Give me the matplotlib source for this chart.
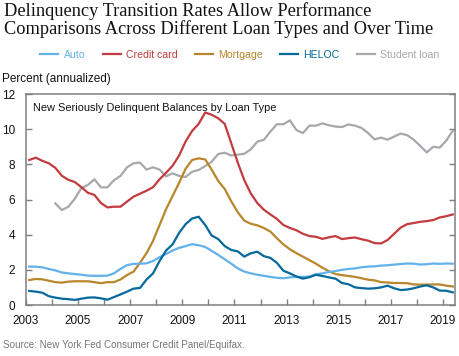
import matplotlib
matplotlib.use("Agg")
import matplotlib.pyplot as plt
from matplotlib.lines import Line2D
import numpy as np

plt.rcParams['font.family'] = ['Liberation Sans', 'DejaVu Sans']

# Quarterly data, 2003Q1 .. 2019Q2 (plotted at mid-quarter)
start_year = 2003
n_quarters = 66

auto = [2.18, 2.18, 2.14, 2.05, 1.97, 1.85, 1.80, 1.76, 1.72, 1.67, 1.66, 1.66,
        1.67, 1.80, 2.05, 2.27, 2.34, 2.35, 2.37, 2.50, 2.72, 2.90, 3.10, 3.25,
        3.35, 3.46, 3.40, 3.30, 3.08, 2.85, 2.60, 2.35, 2.08, 1.90, 1.80, 1.72,
        1.66, 1.60, 1.55, 1.52, 1.57, 1.60, 1.60, 1.62, 1.75, 1.80, 1.88, 1.93,
        2.00, 2.05, 2.08, 2.15, 2.18, 2.20, 2.24, 2.26, 2.30, 2.33, 2.36, 2.35,
        2.30, 2.32, 2.36, 2.34, 2.36, 2.35]

credit_card = [8.25, 8.38, 8.20, 8.06, 7.80, 7.35, 7.12, 6.99, 6.70, 6.38, 6.26, 5.80,
               5.55, 5.59, 5.59, 5.88, 6.16, 6.33, 6.50, 6.70, 7.15, 7.52, 7.92, 8.50,
               9.30, 9.90, 10.30, 10.95, 10.82, 10.62, 10.30, 9.20, 8.10, 7.10, 6.35, 5.80,
               5.42, 5.15, 4.90, 4.55, 4.38, 4.25, 4.05, 3.92, 3.88, 3.76, 3.85, 3.92,
               3.75, 3.80, 3.84, 3.74, 3.66, 3.52, 3.50, 3.70, 4.05, 4.40, 4.60, 4.66,
               4.73, 4.77, 4.83, 4.98, 5.05, 5.15]

mortgage = [1.42, 1.48, 1.46, 1.38, 1.30, 1.27, 1.33, 1.35, 1.35, 1.35, 1.30, 1.24,
            1.30, 1.30, 1.45, 1.70, 1.90, 2.40, 2.95, 3.65, 4.55, 5.45, 6.20, 6.95,
            7.75, 8.25, 8.34, 8.28, 7.70, 7.05, 6.60, 5.90, 5.28, 4.80, 4.62, 4.53,
            4.38, 4.18, 3.80, 3.45, 3.17, 2.95, 2.75, 2.55, 2.35, 2.12, 1.92, 1.76,
            1.70, 1.65, 1.60, 1.52, 1.44, 1.40, 1.30, 1.28, 1.25, 1.25, 1.24, 1.17,
            1.16, 1.16, 1.17, 1.17, 1.10, 1.05]

heloc = [0.80, 0.76, 0.70, 0.50, 0.42, 0.36, 0.33, 0.29, 0.36, 0.42, 0.43, 0.38,
         0.30, 0.45, 0.60, 0.76, 0.93, 0.97, 1.45, 1.80, 2.50, 3.10, 3.45, 4.10,
         4.60, 4.92, 5.02, 4.55, 3.95, 3.75, 3.35, 3.13, 3.05, 2.75, 2.94, 3.03,
         2.78, 2.68, 2.40, 1.95, 1.80, 1.62, 1.50, 1.58, 1.72, 1.65, 1.57, 1.50,
         1.25, 1.18, 1.00, 0.96, 0.93, 0.95, 1.00, 1.10, 0.95, 0.85, 0.88, 0.95,
         1.05, 1.12, 1.00, 0.82, 0.81, 0.72]

# Student loan series begins in 2004Q1
student_loan = [np.nan] * 4 + [
    5.78, 5.40, 5.59, 6.05, 6.65, 6.83, 7.15, 6.69,
    6.69, 7.10, 7.34, 7.83, 8.06, 8.10, 7.70, 7.83, 7.70, 7.32, 7.49, 7.34,
    7.28, 7.58, 7.68, 7.90, 8.15, 8.59, 8.66, 8.50, 8.55, 8.60, 8.85, 9.29,
    9.39, 9.86, 10.28, 10.28, 10.50, 9.95, 9.78, 10.20, 10.20, 10.33, 10.22, 10.15,
    10.12, 10.27, 10.20, 10.07, 9.78, 9.42, 9.52, 9.40, 9.58, 9.75, 9.66, 9.40,
    9.05, 8.68, 9.00, 8.95, 9.35, 9.90]

series_names = ["Auto", "Credit card", "Mortgage", "HELOC", "Student loan"]
series_colors = ["#63b1ea", "#c23b3e", "#b9862c", "#05699b", "#a7a8ac"]

x_tick_years = list(range(2003, 2020))
x_label_years = list(range(2003, 2020, 2))
y_ticks = [0, 2, 4, 6, 8, 10, 12]

years = start_year + 0.125 + 0.25 * np.arange(n_quarters)

fig = plt.figure(figsize=(4.6, 3.56), dpi=100)
ax = fig.add_axes([26 / 460, 1 - 305 / 356, (455.5 - 26) / 460, (305 - 94) / 356])

all_series = [auto, credit_card, mortgage, heloc, student_loan]
order = [4, 1, 2, 0, 3]
for k in order:
    ax.plot(years, all_series[k], color=series_colors[k], lw=1.6,
            solid_joinstyle='round', zorder=3)

ax.set_xlim(2003, 2019.48)
ax.set_ylim(0, 12)
ax.set_yticks(y_ticks)
ax.set_yticklabels([str(v) for v in y_ticks])
ax.set_xticks(x_tick_years)
ax.set_xticklabels([str(y) if y in x_label_years else "" for y in x_tick_years])

spine_color = "#7f7f7f"
for s in ax.spines.values():
    s.set_color(spine_color)
    s.set_linewidth(1.1)

ax.tick_params(axis='y', direction='in', right=True, left=True, length=4,
               width=1.0, color=spine_color, labelsize=8.5, pad=8, labelcolor="#111111")
ax.tick_params(axis='x', direction='in', length=4, width=1.0, color=spine_color,
               labelsize=8.5, pad=7, labelcolor="#111111")

ax.text(0.017, 0.955, "New Seriously Delinquent Balances by Loan Type",
        transform=ax.transAxes, fontsize=7.95, color="#111111", va='top', ha='left')

fig.text(4 / 460, 1 - 20 / 356,
         "Delinquency Transition Rates Allow Performance\nComparisons Across Different Loan Types and Over Time",
         fontsize=13.2, family=['Liberation Serif', 'DejaVu Serif'], color="#111111",
         ha='left', va='center', linespacing=1.05)

handles = [Line2D([], [], color=c, lw=1.6) for c in series_colors]
leg = fig.legend(handles, series_names, loc='center', bbox_to_anchor=(240 / 460, 1 - 55 / 356),
                 ncol=5, frameon=False, fontsize=7.6, handlelength=1.7,
                 handletextpad=0.5, columnspacing=1.65, borderpad=0, borderaxespad=0)
for txt, c in zip(leg.get_texts(), series_colors):
    txt.set_color(c)

fig.text(2 / 460, 1 - 79 / 356, "Percent (annualized)", fontsize=8.5,
         color="#111111", ha='left', va='center')

fig.text(3 / 460, 1 - 345 / 356, "Source: New York Fed Consumer Credit Panel/Equifax.",
         fontsize=7.1, color="#777777", ha='left', va='center')

fig.savefig("out.png", dpi=100)
